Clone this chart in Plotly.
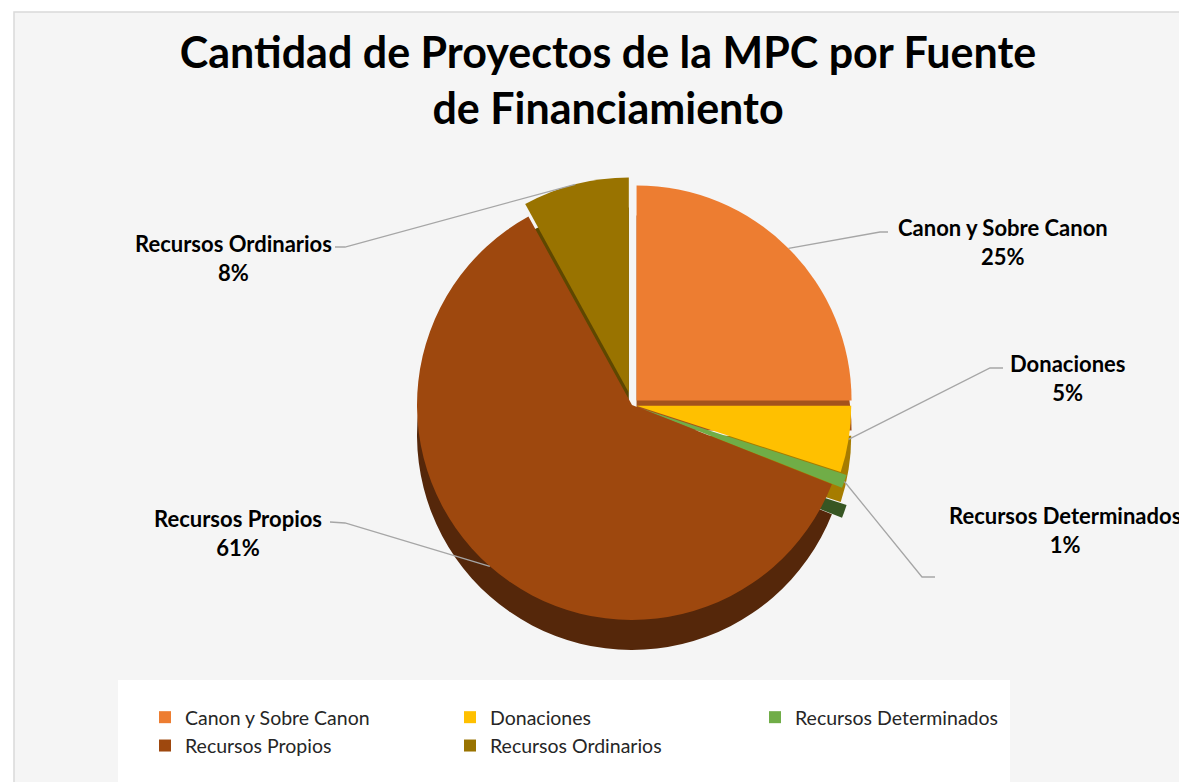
import math
import plotly.graph_objects as go

# ---- data ----
categories = ["Canon y Sobre Canon", "Donaciones", "Recursos Determinados",
              "Recursos Propios", "Recursos Ordinarios"]
values = [25, 5, 1, 61, 8]
colors = ["#ED7D31", "#FFC000", "#70AD47", "#9E480E", "#997300"]
side_colors = ["#a4521c", "#a67c00", "#375623", "#55270a", "#5e4700"]
pulls = [0.03, 0.02, 0.05, 0.0, 0.06]
title_text = "Cantidad de Proyectos de la MPC por Fuente<br>de Financiamiento"

# ---- layout geometry (pixels, page coordinates) ----
W, H = 1187, 782
OFF = 8  # page body margin
cx, cy = 632, 405
R = 215
depth = 30
S = R * (1 + max(pulls))


def px2paper(x, y):
    return (x - OFF) / W, 1 - (y - OFF) / H


def dom(cxp, cyp):
    x0, y1 = px2paper(cxp - S, cyp - S)
    x1, y0 = px2paper(cxp + S, cyp + S)
    return dict(x=[x0, x1], y=[y0, y1])


# label centres and connector (elbow, end) per category
label_pos = [(1003, 242), (1067, 378), (1065, 530), (238, 533), (233, 258)]
conn = [((880, 232), (888, 232)),
        ((990, 368), (1003, 368)),
        ((922, 577), (935, 577)),
        ((345, 523), (330, 522)),
        ((345, 247), (335, 247))]

fig = go.Figure()

# side / depth layer
fig.add_trace(go.Pie(
    labels=categories, values=values, sort=False, direction="clockwise",
    rotation=0, pull=pulls, domain=dom(cx, cy + depth),
    marker=dict(colors=side_colors, line=dict(width=0)),
    textinfo="none", hoverinfo="skip", showlegend=False,
))
# top face
fig.add_trace(go.Pie(
    labels=categories, values=values, sort=False, direction="clockwise",
    rotation=0, pull=pulls, domain=dom(cx, cy),
    marker=dict(colors=colors, line=dict(width=0)),
    textinfo="none", hoverinfo="label+percent",
))

total = sum(values)
bx0, by1 = px2paper(14, 12)
lbx0, lby1 = px2paper(118, 680)
lbx1, _ = px2paper(1010, 680)
shapes = [
    dict(type="rect", xref="paper", yref="paper",
         x0=bx0, x1=1.02, y0=-0.02, y1=by1,
         fillcolor="#f5f5f5", line=dict(color="#d9d9d9", width=1.5), layer="below"),
    dict(type="rect", xref="paper", yref="paper",
         x0=lbx0, x1=lbx1, y0=-0.05, y1=lby1,
         fillcolor="white", line=dict(width=0), layer="below"),
]
annotations = []
cum = 0
for i, (cat, v) in enumerate(zip(categories, values)):
    a0 = cum / total * 360
    cum += v
    a1 = cum / total * 360
    mid = math.radians((a0 + a1) / 2)
    rr = R * (1 + pulls[i])
    ex, ey = cx + rr * math.sin(mid), cy - rr * math.cos(mid)
    (bx, by), (fx, fy) = conn[i]
    p = [px2paper(ex, ey), px2paper(bx, by), px2paper(fx, fy)]
    path = "M {:.5f} {:.5f} L {:.5f} {:.5f} L {:.5f} {:.5f}".format(
        p[0][0], p[0][1], p[1][0], p[1][1], p[2][0], p[2][1])
    shapes.append(dict(type="path", xref="paper", yref="paper", path=path,
                       line=dict(color="#a6a6a6", width=1.3)))
    lx, ly = px2paper(*label_pos[i])
    pct = round(v / total * 100)
    annotations.append(dict(
        x=lx, y=ly, xref="paper", yref="paper", showarrow=False,
        xanchor="center", yanchor="middle", align="center",
        text="<b>{}</b><br><b>{}%</b>".format(cat, pct),
        font=dict(family="Lato", size=22, color="#000000"),
    ))

tx, ty = px2paper(608, 68)
lgx, lgy = px2paper(145, 698)
fig.update_layout(
    width=W, height=H,
    margin=dict(l=0, r=0, t=0, b=0),
    paper_bgcolor="white",
    title=dict(text=title_text, x=tx, xanchor="center",
               y=ty, yanchor="top", yref="container",
               font=dict(family="Lato", size=43, color="#000000", weight=700)),
    legend=dict(orientation="h", x=lgx, xanchor="left",
                y=lgy, yanchor="top",
                entrywidth=260, entrywidthmode="pixels",
                bgcolor="rgba(0,0,0,0)",
                font=dict(family="Lato", size=19.5, color="#262626")),
    shapes=shapes,
    annotations=annotations,
)

fig.write_html("out.html")
